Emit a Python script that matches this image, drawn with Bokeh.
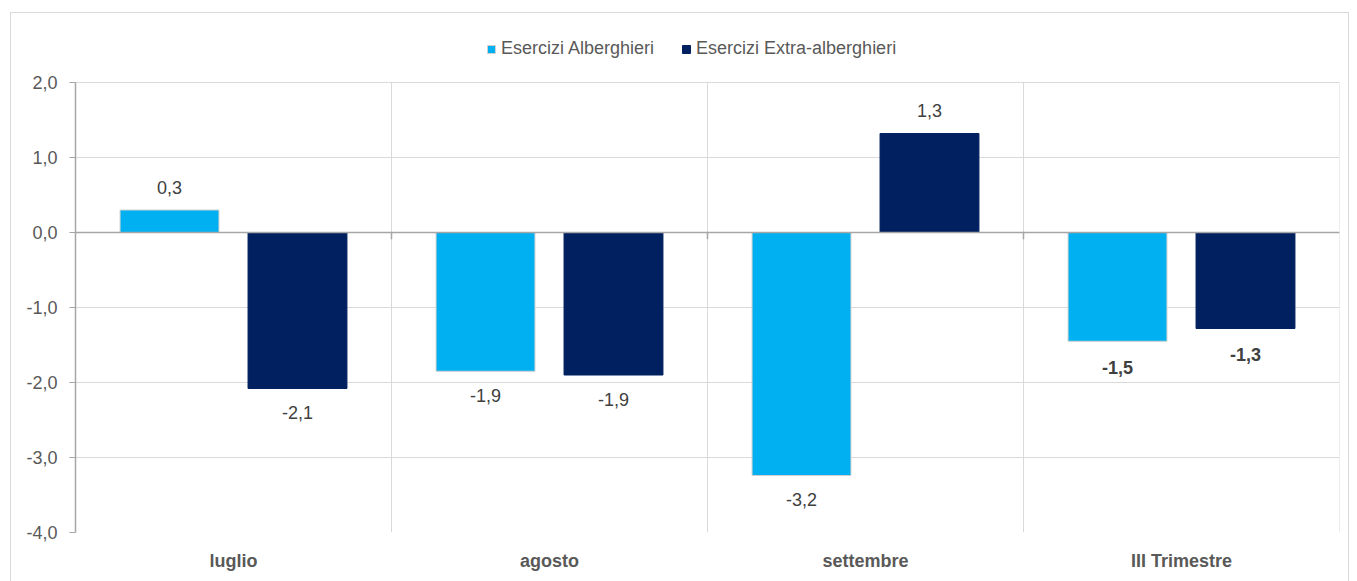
from bokeh.plotting import figure
from bokeh.models import (FixedTicker, Span, Legend, LegendItem, ColumnDataSource)
from bokeh.core.properties import value
from bokeh.embed import file_html
from bokeh.resources import INLINE

categories = ["luglio", "agosto", "settembre", "III Trimestre"]
alberghieri = [0.3, -1.85, -3.24, -1.45]
extra = [-2.08, -1.9, 1.32, -1.28]
alb_labels = ["0,3", "-1,9", "-3,2", "-1,5"]
extra_labels = ["-2,1", "-1,9", "1,3", "-1,3"]
label_bold = [False, False, False, True]
y_ticks = [-4, -3, -2, -1, 0, 1, 2]
y_tick_labels = ["-4,0", "-3,0", "-2,0", "-1,0", "0,0", "1,0", "2,0"]

FONT = "Liberation Sans"
FS = "18px"
TXT = "#595959"
LAB = "#404040"
C_ALB = "#00B0F0"
C_EXT = "#002060"
GRID = "#d9d9d9"
AX = "#a6a6a6"

n = len(categories)
offset = 0.2025
bw = 0.313
y_min, y_max = -4, 2
y_top = y_max + 52 / 75  # room for the legend above the plot area

p = figure(width=1339, height=571, x_range=(0, n), y_range=(y_min, y_top),
           output_backend="svg", toolbar_location=None,
           min_border_left=64, min_border_right=11, min_border_top=17,
           min_border_bottom=52)
p.styles = {"border": "1px solid #d9d9d9", "margin-left": "10px", "margin-top": "12px"}
p.outline_line_color = None
p.background_fill_color = "white"
p.border_fill_color = "white"

# grids
p.ygrid.ticker = FixedTicker(ticks=y_ticks)
p.ygrid.grid_line_color = GRID
p.ygrid.grid_line_width = 1
p.xgrid.grid_line_color = None
bounds_x = list(range(1, n + 1))
p.segment(x0=bounds_x, y0=[y_min] * n, x1=bounds_x, y1=[y_max] * n,
          line_color=GRID, line_width=1)

# y axis
p.yaxis.ticker = FixedTicker(ticks=y_ticks)
p.yaxis.bounds = (y_min, y_max)
p.yaxis.major_label_overrides = {t: l for t, l in zip(y_ticks, y_tick_labels)}
p.yaxis.axis_line_color = AX
p.yaxis.axis_line_width = 1.5
p.yaxis.major_tick_line_color = AX
p.yaxis.major_tick_out = 6
p.yaxis.major_tick_in = 0
p.yaxis.minor_tick_line_color = None
p.yaxis.major_label_text_font = FONT
p.yaxis.major_label_text_font_size = FS
p.yaxis.major_label_text_color = TXT
p.yaxis.major_label_standoff = 12

# x axis (labels only)
centers = [i + 0.5 for i in range(n)]
p.xaxis.ticker = FixedTicker(ticks=centers)
p.xaxis.major_label_overrides = {c: cat for c, cat in zip(centers, categories)}
p.xaxis.axis_line_color = None
p.xaxis.major_tick_line_color = None
p.xaxis.minor_tick_line_color = None
p.xaxis.major_label_text_font = FONT
p.xaxis.major_label_text_font_size = FS
p.xaxis.major_label_text_font_style = "bold"
p.xaxis.major_label_text_color = TXT
p.xaxis.major_label_standoff = 12

# bars
src_a = ColumnDataSource(dict(x=[c - offset for c in centers], top=alberghieri))
src_e = ColumnDataSource(dict(x=[c + offset for c in centers], top=extra))
ra = p.vbar(x="x", top="top", bottom=0, width=bw, source=src_a,
            fill_color=C_ALB, line_color="#d0d0d0", line_width=1)
re_ = p.vbar(x="x", top="top", bottom=0, width=bw, source=src_e,
             fill_color=C_EXT, line_color=C_EXT, line_width=1)

# zero line + boundary ticks
p.add_layout(Span(location=0, dimension="width", line_color=AX, line_width=1.5))
p.segment(x0=list(range(1, n)), y0=[0] * (n - 1), x1=list(range(1, n)),
          y1=[-0.09] * (n - 1), line_color=AX, line_width=1.5)

# data labels
for xs, vals, labs in ((src_a.data["x"], alberghieri, alb_labels),
                       (src_e.data["x"], extra, extra_labels)):
    for x, v, l, b in zip(xs, vals, labs, label_bold):
        p.text(x=[x], y=[v], text=[l],
               y_offset=-23 if v >= 0 else (26 if b else 24),
               text_align="center", text_baseline="middle",
               text_font=value(FONT), text_font_size=FS,
               text_font_style="bold" if b else "normal",
               text_color=LAB)

legend = Legend(items=[LegendItem(label="Esercizi Alberghieri", renderers=[ra]),
                       LegendItem(label="Esercizi Extra-alberghieri", renderers=[re_])],
                orientation="horizontal", location=(411, 473),
                glyph_width=10, glyph_height=10, spacing=27,
                label_text_font=FONT, label_text_font_size=FS,
                label_text_color=TXT, label_standoff=5,
                border_line_color=None, background_fill_alpha=0,
                padding=0, margin=0)
p.add_layout(legend)

open("out.html", "w").write(file_html(p, INLINE))
